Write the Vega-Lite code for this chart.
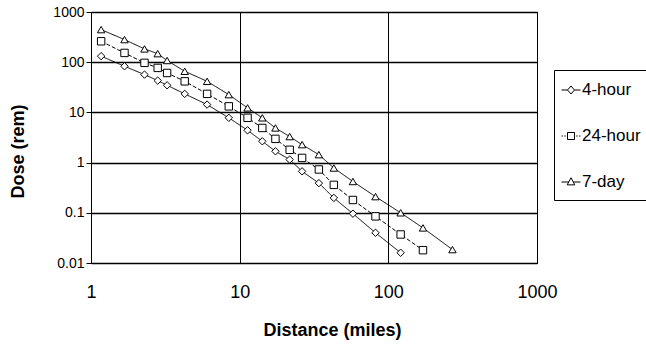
{
  "$schema": "https://vega.github.io/schema/vega-lite/v6.json",
  "autosize": "none",
  "width": 446,
  "height": 251,
  "padding": {"left": 91, "top": 12, "right": 109, "bottom": 87},
  "background": "white",
  "config": {
    "font": "Liberation Sans",
    "view": {"stroke": "black", "strokeWidth": 1},
    "axis": {
      "grid": true,
      "gridColor": "black",
      "gridOpacity": 1,
      "gridWidth": 1,
      "domainColor": "black",
      "tickColor": "black",
      "labelColor": "black",
      "titleColor": "black",
      "labelFont": "Liberation Sans",
      "titleFont": "Liberation Sans",
      "labelOverlap": false,
      "labelFlush": false
    }
  },
  "data": {
    "values": [
      {"series": "4-hour", "distance": 1.17, "dose": 132},
      {"series": "4-hour", "distance": 1.68, "dose": 83},
      {"series": "4-hour", "distance": 2.29, "dose": 56.6},
      {"series": "4-hour", "distance": 2.81, "dose": 43},
      {"series": "4-hour", "distance": 3.25, "dose": 34.7},
      {"series": "4-hour", "distance": 4.27, "dose": 23.4},
      {"series": "4-hour", "distance": 6.04, "dose": 14.3},
      {"series": "4-hour", "distance": 8.45, "dose": 7.8},
      {"series": "4-hour", "distance": 11.3, "dose": 4.4},
      {"series": "4-hour", "distance": 14.2, "dose": 2.66},
      {"series": "4-hour", "distance": 17.4, "dose": 1.68},
      {"series": "4-hour", "distance": 21.7, "dose": 1.15},
      {"series": "4-hour", "distance": 26.3, "dose": 0.67},
      {"series": "4-hour", "distance": 34.1, "dose": 0.39},
      {"series": "4-hour", "distance": 43, "dose": 0.198},
      {"series": "4-hour", "distance": 57.8, "dose": 0.096},
      {"series": "4-hour", "distance": 82, "dose": 0.04},
      {"series": "4-hour", "distance": 121, "dose": 0.016},
      {"series": "24-hour", "distance": 1.17, "dose": 261},
      {"series": "24-hour", "distance": 1.68, "dose": 153},
      {"series": "24-hour", "distance": 2.29, "dose": 97},
      {"series": "24-hour", "distance": 2.81, "dose": 77},
      {"series": "24-hour", "distance": 3.25, "dose": 61},
      {"series": "24-hour", "distance": 4.27, "dose": 41.6},
      {"series": "24-hour", "distance": 6.04, "dose": 23.4},
      {"series": "24-hour", "distance": 8.45, "dose": 13.2},
      {"series": "24-hour", "distance": 11.3, "dose": 7.8},
      {"series": "24-hour", "distance": 14.2, "dose": 4.9},
      {"series": "24-hour", "distance": 17.4, "dose": 2.97},
      {"series": "24-hour", "distance": 21.7, "dose": 1.8},
      {"series": "24-hour", "distance": 26.3, "dose": 1.24},
      {"series": "24-hour", "distance": 34.1, "dose": 0.73},
      {"series": "24-hour", "distance": 43, "dose": 0.36},
      {"series": "24-hour", "distance": 57.8, "dose": 0.18},
      {"series": "24-hour", "distance": 82, "dose": 0.085},
      {"series": "24-hour", "distance": 121, "dose": 0.037},
      {"series": "24-hour", "distance": 171, "dose": 0.018},
      {"series": "7-day", "distance": 1.17, "dose": 446},
      {"series": "7-day", "distance": 1.68, "dose": 282},
      {"series": "7-day", "distance": 2.29, "dose": 184},
      {"series": "7-day", "distance": 2.81, "dose": 148},
      {"series": "7-day", "distance": 3.25, "dose": 108},
      {"series": "7-day", "distance": 4.27, "dose": 66},
      {"series": "7-day", "distance": 6.04, "dose": 41.6},
      {"series": "7-day", "distance": 8.45, "dose": 22.6},
      {"series": "7-day", "distance": 11.3, "dose": 12.3},
      {"series": "7-day", "distance": 14.2, "dose": 7.8},
      {"series": "7-day", "distance": 17.4, "dose": 4.9},
      {"series": "7-day", "distance": 21.7, "dose": 3.3},
      {"series": "7-day", "distance": 26.3, "dose": 2.28},
      {"series": "7-day", "distance": 34.1, "dose": 1.44},
      {"series": "7-day", "distance": 43, "dose": 0.78},
      {"series": "7-day", "distance": 57.8, "dose": 0.42},
      {"series": "7-day", "distance": 82, "dose": 0.21},
      {"series": "7-day", "distance": 121, "dose": 0.1},
      {"series": "7-day", "distance": 171, "dose": 0.05},
      {"series": "7-day", "distance": 270, "dose": 0.0185}
    ]
  },
  "encoding": {
    "x": {
      "field": "distance",
      "type": "quantitative",
      "scale": {"type": "log", "domain": [1, 1000], "nice": false},
      "axis": {
        "title": "Distance (miles)",
        "values": [1, 10, 100, 1000],
        "format": "~g",
        "tickSize": 0,
        "labelFontSize": 18,
        "labelPadding": 20,
        "titleFontSize": 18,
        "titleFontWeight": "bold",
        "titlePadding": 20,
        "titleX": 241
      }
    },
    "y": {
      "field": "dose",
      "type": "quantitative",
      "scale": {"type": "log", "domain": [0.01, 1000], "nice": false},
      "axis": {
        "title": "Dose (rem)",
        "values": [0.01, 0.1, 1, 10, 100, 1000],
        "format": "~g",
        "tickSize": 5,
        "gridWidth": 1.5,
        "labelFontSize": 14,
        "labelPadding": 2,
        "titleFontSize": 18,
        "titleFontWeight": "bold",
        "titlePadding": 25,
        "titleY": 139
      }
    }
  },
  "layer": [
    {
      "mark": {"type": "line", "color": "black", "strokeWidth": 1},
      "encoding": {
        "detail": {"field": "series", "type": "nominal"},
        "strokeDash": {
          "field": "series",
          "type": "nominal",
          "scale": {"domain": ["4-hour", "24-hour", "7-day"], "range": [[1, 0], [4, 2], [1, 0]]},
          "legend": null
        }
      }
    },
    {
      "mark": {"type": "point", "filled": true, "fill": "white", "stroke": "black", "strokeWidth": 1, "size": 55, "opacity": 1},
      "encoding": {
        "shape": {
          "field": "series",
          "type": "nominal",
          "scale": {"domain": ["4-hour", "24-hour", "7-day"], "range": ["diamond", "square", "triangle-up"]},
          "legend": null
        }
      }
    },
    {
      "transform": [{"filter": "false"}],
      "mark": {"type": "point", "filled": false, "color": "black", "strokeWidth": 1, "opacity": 1},
      "encoding": {
        "shape": {
          "field": "series",
          "type": "nominal",
          "scale": {
            "domain": ["4-hour", "24-hour", "7-day"],
            "range": [
              "M-1,0H-0.37M0.37,0H1M-0.37,0L0,-0.42L0.37,0L0,0.42Z",
              "M-1,0H-0.85M-0.7,0H-0.55M0.55,0H0.7M0.85,0H1M-0.37,-0.37H0.37V0.37H-0.37Z",
              "M-1,0H-0.24M0.24,0H1M0,-0.45L0.4,0.3H-0.4Z"
            ]
          },
          "legend": {
            "title": null,
            "orient": "none",
            "legendX": 463,
            "legendY": 58,
            "padding": 10,
            "rowPadding": 28,
            "symbolSize": 361,
            "symbolOffset": -3,
            "symbolStrokeColor": "black",
            "symbolFillColor": "white",
            "symbolStrokeWidth": 1,
            "symbolOpacity": 1,
            "labelFontSize": 17,
            "labelFont": "Liberation Sans",
            "labelColor": "black",
            "labelOffset": 1,
            "strokeColor": "black",
            "fillColor": "white",
            "encode": {
              "symbols": {
                "update": {
                  "stroke": {"value": "black"},
                  "fill": {"value": "white"},
                  "strokeWidth": {"value": 1},
                  "opacity": {"value": 1}
                }
              }
            }
          }
        }
      }
    }
  ],
  "resolve": {"scale": {"shape": "independent", "strokeDash": "independent"}}
}
